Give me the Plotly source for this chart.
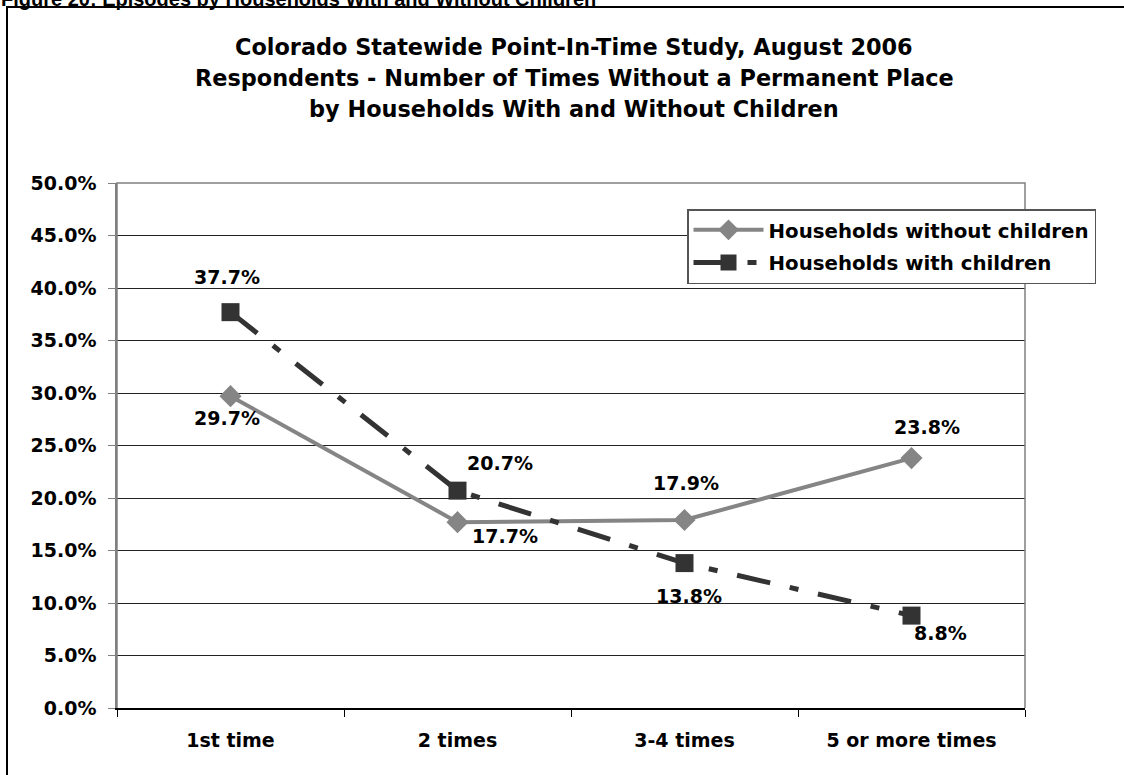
import plotly.graph_objects as go

# Survey categories and shares (percent of respondents)
categories = ["1st time", "2 times", "3-4 times", "5 or more times"]
without_children = [29.7, 17.7, 17.9, 23.8]
with_children = [37.7, 20.7, 13.8, 8.8]
y_ticks = [0, 5, 10, 15, 20, 25, 30, 35, 40, 45, 50]

title_lines = [
    "Colorado Statewide Point-In-Time Study, August 2006",
    "Respondents - Number of Times Without a Permanent Place",
    "by Households With and Without Children",
]
caption = "Figure 20: Episodes by Households With and Without Children"

# Pixel offsets of each value label relative to its point
without_offsets = [(-4, -22), (47, -14), (1, 37), (15, 31)]
with_offsets = [(-4, 35), (42, 28), (4, -33), (29, -17)]

W, H = 1124, 775
L, R, T, B = 117, 1025, 183, 708

def px(x):
    return (x - L) / (R - L)

def py(y):
    return (B - y) / (B - T)

FONT = "DejaVu Sans"
LIGHT = "#858585"
DARK = "#333333"

fig = go.Figure()
fig.add_trace(go.Scatter(
    x=categories, y=without_children, name="Households without children",
    mode="lines+markers", legendgroup="a",
    line=dict(color=LIGHT, width=4),
    marker=dict(symbol="diamond", size=17, color=LIGHT),
))
fig.add_trace(go.Scatter(
    x=categories, y=with_children, name="Households with children",
    mode="lines+markers", legendgroup="b",
    line=dict(color=DARK, width=5, dash="34px,20px,9px,20px"),
    marker=dict(symbol="square", size=18, color=DARK),
))

annotations = []
for vals, offs in ((without_children, without_offsets), (with_children, with_offsets)):
    for cat, v, (dx, dy) in zip(categories, vals, offs):
        annotations.append(dict(
            x=cat, y=v, xref="x", yref="y", text=f"{v:.1f}%", showarrow=False,
            xshift=dx, yshift=dy, xanchor="center", yanchor="middle",
            font=dict(family=FONT, size=19, weight="bold", color="black"),
        ))

# Chart title, one line per annotation
for i, line in enumerate(title_lines):
    annotations.append(dict(
        x=px(574), y=py(47 + 31 * i), xref="paper", yref="paper",
        xanchor="center", yanchor="middle", text=line, showarrow=False,
        font=dict(family=FONT, size=22.4, weight="bold", color="black"),
    ))

# Document caption above the chart frame
annotations.append(dict(
    x=px(-1), y=py(12), xref="paper", yref="paper", xanchor="left", yanchor="bottom",
    text=caption, showarrow=False,
    font=dict(family="Liberation Sans", size=20, weight="bold", color="black"),
))

shapes = [
    # outer frame (left and top edges)
    dict(type="path", xref="paper", yref="paper",
         path=f"M{px(7)},{py(W)} L{px(7)},{py(7)} L{px(W)},{py(7)}",
         line=dict(color="black", width=2)),
    # plot area border
    dict(type="path", xref="paper", yref="paper", layer="above",
         path="M0,0 L0,1 L1,1 L1,0", line=dict(color="#808080", width=1.5)),
]

fig.update_layout(
    width=W, height=H,
    margin=dict(l=L, r=W - R, t=T, b=H - B),
    paper_bgcolor="white", plot_bgcolor="white",
    xaxis=dict(
        type="category", range=[-0.5, len(categories) - 0.5],
        tickson="boundaries", ticks="outside", ticklen=7,
        tickcolor="black", showline=True, linecolor="black", linewidth=2,
        showgrid=False, ticklabelstandoff=14,
        tickfont=dict(family=FONT, size=19, weight="bold", color="black"),
    ),
    yaxis=dict(
        range=[0, 50], tickvals=y_ticks, ticktext=[f"{v:.1f}%" for v in y_ticks],
        ticks="outside", ticklen=7, tickcolor="#808080",
        showline=True, linecolor="#808080", linewidth=1.5,
        showgrid=True, gridcolor="#222222", gridwidth=1, zeroline=False,
        ticklabelstandoff=8,
        tickfont=dict(family=FONT, size=19, weight="bold", color="black"),
    ),
    legend=dict(
        x=px(687), y=py(209), xanchor="left", yanchor="top",
        bgcolor="white", bordercolor="#555555", borderwidth=1.5,
        font=dict(family=FONT, size=19.8, weight="bold", color="black"),
        itemwidth=70, traceorder="grouped", tracegroupgap=4,
    ),
    showlegend=True,
    annotations=annotations,
    shapes=shapes,
)

fig.write_html("out.html")
